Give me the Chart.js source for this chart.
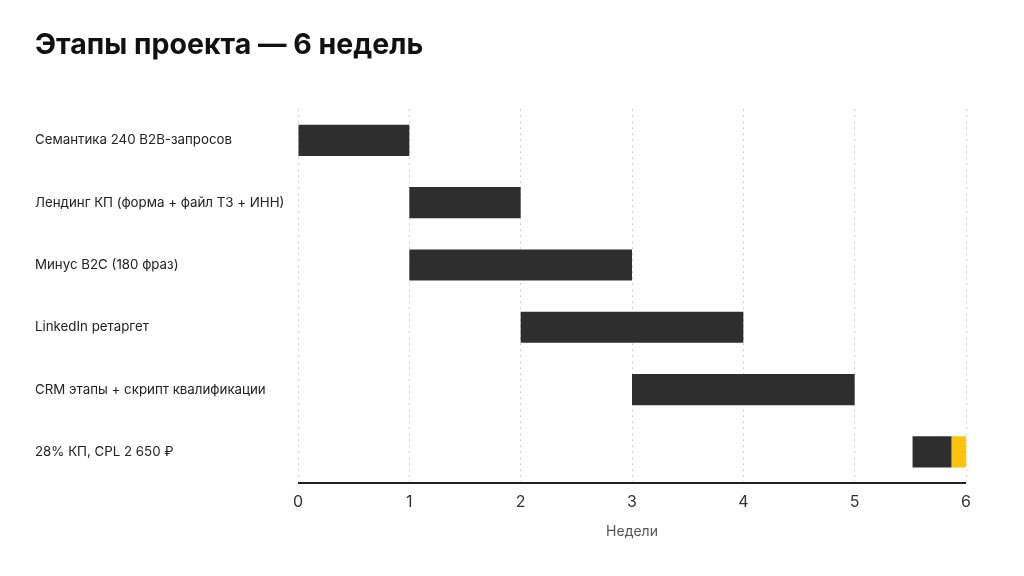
<!DOCTYPE html>
<html>
<head>
<meta charset="utf-8">
<script src="https://cdn.jsdelivr.net/npm/chart.js@4/dist/chart.umd.min.js"></script>
<style>
  html, body { margin: 0; padding: 0; background: #fff; }
  #wrap { width: 1024px; height: 576px; }
</style>
</head>
<body>
<div id="wrap"><canvas id="myChart" width="1024" height="576"></canvas></div>
<script>
// stages of the project, weeks
const stages = [
  'Семантика 240 B2B-запросов',
  'Лендинг КП (форма + файл ТЗ + ИНН)',
  'Минус B2C (180 фраз)',
  'LinkedIn ретаргет',
  'CRM этапы + скрипт квалификации',
  '28% КП, CPL 2 650 ₽'
];
const workRanges = [[0, 1], [1, 2], [1, 3], [2, 4], [3, 5], [5.52, 5.87]];
const resultRanges = [null, null, null, null, null, [5.87, 6]];
const weekTicks = [0, 1, 2, 3, 4, 5, 6];

// solid bottom axis line (grid lines are dotted)
const axisLine = {
  id: 'axisLine',
  afterDraw(chart) {
    const {ctx, chartArea} = chart;
    ctx.save();
    ctx.strokeStyle = '#222';
    ctx.lineWidth = 2;
    ctx.beginPath();
    ctx.moveTo(chartArea.left, chartArea.bottom);
    ctx.lineTo(chartArea.right, chartArea.bottom);
    ctx.stroke();
    ctx.restore();
  }
};

const ctx = document.getElementById('myChart').getContext('2d');
new Chart(ctx, {
  type: 'bar',
  data: {
    labels: stages,
    datasets: [{
      label: 'Работы',
      data: workRanges,
      backgroundColor: '#2e2e2e',
      grouped: false,
      barPercentage: 0.5,
      categoryPercentage: 1
    }, {
      label: 'Результат',
      data: resultRanges,
      backgroundColor: '#ffc20e',
      grouped: false,
      barPercentage: 0.5,
      categoryPercentage: 1
    }]
  },
  options: {
    indexAxis: 'y',
    responsive: false,
    animation: false,
    layout: { padding: { left: 35, right: 58, top: 0, bottom: 30 } },
    plugins: {
      legend: { display: false },
      tooltip: { enabled: false },
      title: {
        display: true,
        text: 'Этапы проекта — 6 недель',
        align: 'start',
        color: '#111',
        font: { family: 'Inter', size: 28.5, weight: 'bold' },
        padding: { top: 28, bottom: 47 }
      }
    },
    scales: {
      x: {
        type: 'linear',
        min: 0,
        max: 6,
        afterBuildTicks: (axis) => { axis.ticks = weekTicks.map(v => ({ value: v })); },
        border: { display: false, dash: [2, 4] },
        grid: { color: '#cfcfcf', drawTicks: false, lineWidth: 1 },
        ticks: { color: '#333', padding: 10, font: { family: 'Inter', size: 16 } },
        title: {
          display: true,
          text: 'Недели',
          color: '#555',
          font: { family: 'Inter', size: 14 },
          padding: { top: 1, bottom: 6 }
        }
      },
      y: {
        border: { display: false },
        grid: { display: false },
        afterFit: (axis) => { axis.width = 263; },
        ticks: {
          crossAlign: 'far',
          color: '#222',
          font: { family: 'Inter', size: 13.3 }
        }
      }
    }
  },
  plugins: [axisLine]
});
</script>
</body>
</html>
